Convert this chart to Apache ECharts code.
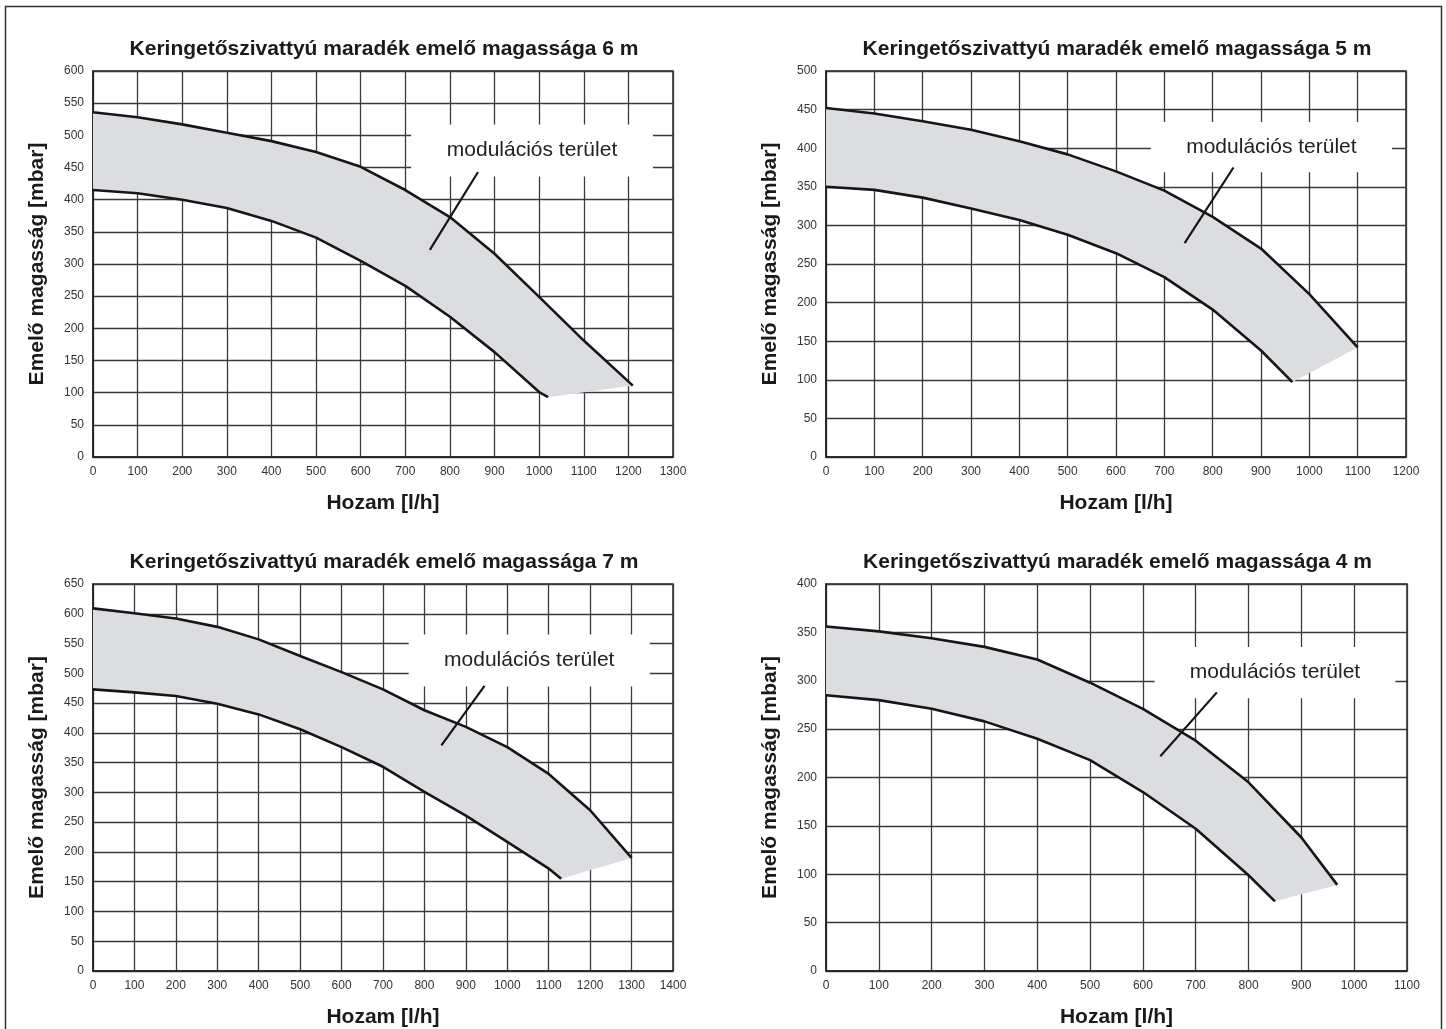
<!DOCTYPE html>
<html>
<head>
<meta charset="utf-8">
<script src="https://cdn.jsdelivr.net/npm/echarts@6/dist/echarts.min.js"></script>
<style>
  html, body { margin: 0; padding: 0; background: #fff; }
  #main { width: 1446px; height: 1029px; }
</style>
</head>
<body>
<div id="main"></div>
<script>
// titles of the four panels (top-left, top-right, bottom-left, bottom-right)
var titles = [
  'Keringetőszivattyú maradék emelő magassága 6 m',
  'Keringetőszivattyú maradék emelő magassága 5 m',
  'Keringetőszivattyú maradék emelő magassága 7 m',
  'Keringetőszivattyú maradék emelő magassága 4 m'
];
var xName = 'Hozam [l/h]';
var yName = 'Emelő magasság [mbar]';
var areaLabel = 'modulációs terület';

// axis ranges
var xMaxes = [1300, 1200, 1400, 1100];
var yMaxes = [600, 500, 650, 400];

// [flow l/h, head mbar]
var upper6m = [[0, 536], [100, 528], [200, 517], [300, 504], [400, 491], [500, 474], [600, 451], [700, 415], [800, 373], [900, 316], [1000, 249], [1100, 181], [1210, 111]];
var lower6m = [[0, 415], [100, 410], [200, 400], [300, 387], [400, 367], [500, 341], [600, 305], [700, 266], [800, 218], [900, 163], [1000, 101], [1020, 93]];

var upper5m = [[0, 452], [100, 445], [200, 435], [300, 424], [400, 409], [500, 392], [600, 370], [700, 345], [800, 311], [900, 270], [1000, 211], [1100, 142]];
var lower5m = [[0, 350], [100, 346], [200, 336], [300, 322], [400, 307], [500, 288], [600, 264], [700, 233], [800, 191], [900, 138], [965, 97]];

var upper7m = [[0, 609], [100, 601], [200, 592], [300, 578], [400, 557], [500, 529], [600, 502], [700, 473], [800, 438], [900, 410], [1000, 376], [1100, 331], [1200, 270], [1300, 190]];
var lower7m = [[0, 473], [100, 468], [200, 462], [300, 449], [400, 431], [500, 406], [600, 376], [700, 343], [800, 301], [900, 261], [1000, 217], [1100, 172], [1130, 155]];

var upper4m = [[0, 356], [100, 351], [200, 344], [300, 335], [400, 322], [500, 298], [600, 271], [700, 238], [800, 195], [900, 138], [968, 89]];
var lower4m = [[0, 285], [100, 280], [200, 271], [300, 258], [400, 240], [500, 218], [600, 185], [700, 147], [800, 99], [850, 72]];

var uppers = [upper6m, upper5m, upper7m, upper4m];
var lowers = [lower6m, lower5m, lower7m, lower4m];

// label box and leader line of each panel, in axis units
var labelBoxes = [
  [[713, 517], [1255, 436]],
  [[672, 434], [1171, 369]],
  [[762, 565], [1344, 478]],
  [[622, 335], [1078, 282]]
];
var leaders = [
  [[863, 443], [755, 322]],
  [[843, 375], [742, 277]],
  [[945, 479], [841, 379]],
  [[740, 288], [633, 222]]
];

var grids = [
  { left: 93, top: 71, width: 580, height: 386 },
  { left: 826, top: 71, width: 580, height: 386 },
  { left: 93, top: 584, width: 580, height: 387 },
  { left: 826, top: 584, width: 581, height: 387 }
];
var titleTops = [34, 34, 547, 547];

var font = 'Liberation Sans, Arial, sans-serif';
var lineColor = '#161616';
var gridColor = '#3a3a3a';

var chart = echarts.init(document.getElementById('main'));

var option = {
  animation: false,
  textStyle: { fontFamily: font },
  title: [],
  grid: [],
  xAxis: [],
  yAxis: [],
  series: [],
  graphic: [{
    type: 'rect',
    silent: true,
    shape: { x: 5.5, y: 6.5, width: 1436, height: 1100 },
    style: { fill: 'none', stroke: '#333', lineWidth: 1.5 }
  }]
};

var plain = function (v) { return String(v); };

for (var i = 0; i < 4; i++) {
  var g = grids[i];
  option.grid.push({
    left: g.left, top: g.top, width: g.width, height: g.height,
    show: true, borderColor: '#222', borderWidth: 1.5, backgroundColor: 'transparent',
    containLabel: false
  });
  option.title.push({
    text: titles[i],
    left: g.left + g.width / 2 - 4,
    top: titleTops[i],
    textAlign: 'center',
    textStyle: { fontFamily: font, fontSize: 21, fontWeight: 'bold', color: '#1a1a1a' }
  });
  option.xAxis.push({
    type: 'value', gridIndex: i, min: 0, max: xMaxes[i], interval: 100,
    name: xName, nameLocation: 'middle', nameGap: 36,
    nameTextStyle: { fontFamily: font, fontSize: 21, fontWeight: 'bold', color: '#1a1a1a' },
    axisLine: { show: true, onZero: false, lineStyle: { color: '#222', width: 1.5 } },
    axisTick: { show: false },
    axisLabel: { fontSize: 12, color: '#333', margin: 9, formatter: plain },
    splitLine: { show: true, lineStyle: { color: gridColor, width: 1.3 } }
  });
  option.yAxis.push({
    type: 'value', gridIndex: i, min: 0, max: yMaxes[i], interval: 50,
    name: yName, nameLocation: 'middle', nameGap: 45,
    nameTextStyle: { fontFamily: font, fontSize: 21, fontWeight: 'bold', color: '#1a1a1a' },
    axisLine: { show: true, onZero: false, lineStyle: { color: '#222', width: 1.5 } },
    axisTick: { show: false },
    axisLabel: { fontSize: 12, color: '#333', margin: 9, formatter: plain },
    splitLine: { show: true, lineStyle: { color: gridColor, width: 1.3 } }
  });

  // shaded modulation band: upper curve forward, lower curve back
  (function (up, low) {
    var band = up.concat(low.slice().reverse());
    option.series.push({
      type: 'custom',
      xAxisIndex: i, yAxisIndex: i,
      silent: true,
      z: 1,
      data: [[0, 0]],
      renderItem: function (params, api) {
        var pts = band.map(function (p) { return api.coord(p); });
        return { type: 'polygon', shape: { points: pts }, style: { fill: '#dcdde0' } };
      }
    });
  })(uppers[i], lowers[i]);

  option.series.push({
    type: 'line', xAxisIndex: i, yAxisIndex: i, z: 3,
    data: uppers[i], showSymbol: false, silent: true,
    lineStyle: { color: lineColor, width: 2.6 },
    markArea: {
      silent: true,
      itemStyle: { color: '#fff' },
      label: { show: true, position: 'inside', fontFamily: font, fontSize: 21, color: '#222' },
      data: [[
        { name: areaLabel, coord: labelBoxes[i][0] },
        { coord: labelBoxes[i][1] }
      ]]
    },
    markLine: {
      silent: true, symbol: 'none', animation: false,
      label: { show: false },
      lineStyle: { color: lineColor, width: 2.2, type: 'solid' },
      data: [[{ coord: leaders[i][0] }, { coord: leaders[i][1] }]]
    }
  });
  option.series.push({
    type: 'line', xAxisIndex: i, yAxisIndex: i, z: 3,
    data: lowers[i], showSymbol: false, silent: true,
    lineStyle: { color: lineColor, width: 2.6 }
  });
}

chart.setOption(option);
</script>
</body>
</html>
